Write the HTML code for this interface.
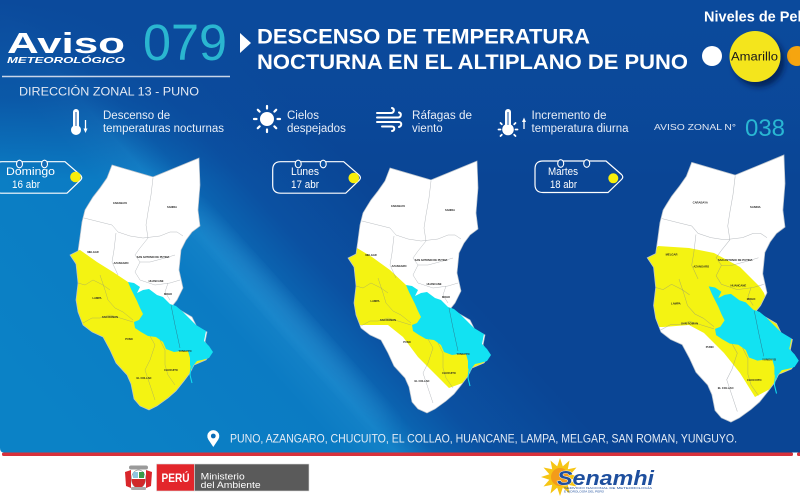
<!DOCTYPE html>
<html><head><meta charset="utf-8"><style>
html,body{margin:0;padding:0;background:#fff;width:800px;height:500px;overflow:hidden}
svg{display:block}
</style></head><body>
<svg xmlns="http://www.w3.org/2000/svg" xmlns:xlink="http://www.w3.org/1999/xlink" width="800" height="500" viewBox="0 0 800 500" font-family="'Liberation Sans', Arial, sans-serif">
<defs>
<linearGradient id="bg" gradientUnits="userSpaceOnUse" x1="4" y1="374" x2="301" y2="107">
<stop offset="0" stop-color="#0b82c6"/>
<stop offset="0.5" stop-color="#0b7bc3"/>
<stop offset="0.6" stop-color="#1482c8"/>
<stop offset="0.67" stop-color="#0b63b0"/>
<stop offset="0.77" stop-color="#0b51a2"/>
<stop offset="1" stop-color="#0a4595"/>
</linearGradient>
<linearGradient id="top" x1="0" y1="0" x2="0" y2="1">
<stop offset="0" stop-color="#0b4a9c" stop-opacity="1"/>
<stop offset="0.55" stop-color="#0b4a9c" stop-opacity="0.7"/>
<stop offset="1" stop-color="#0b4a9c" stop-opacity="0"/>
</linearGradient>
<filter id="sh" x="-50%" y="-50%" width="200%" height="200%">
<feDropShadow dx="4" dy="5" stdDeviation="3" flood-color="#021a48" flood-opacity="0.8"/>
</filter>
<filter id="blur" x="-50%" y="-50%" width="200%" height="200%"><feGaussianBlur stdDeviation="10"/></filter>
<path id="outl" d="M112,165 L153,177 L199,158 L200,185 L198,210 L200,226 L192,232 L186,240 L181,250 L179,270 L183,288 L177,300 L173,305 L180,310 L192,317 L197,327 L207,332 L205,342 L212,352 L206,360 L194,365 L190,373 L184,381 L176,391 L168,398 L157,406 L149,410 L140,406 L134,399 L131,384 L127,375 L116,363 L110,350 L103,337 L92,332 L83,325 L78,312 L76,300 L78,283 L76,264 L70,255 L78,251 L80,237 L82,222 L85,210 L88,205 L93,197 L100,188 L107,178 Z"/>
<clipPath id="c1"><use href="#outl"/></clipPath>
<clipPath id="c2"><use href="#outl" transform="translate(278,3)"/></clipPath>
<clipPath id="c3"><use href="#outl" transform="matrix(1.06,0,0,1.06,573,-12.5)"/></clipPath>
<g id="det">
<use href="#outl" fill="none" stroke="#b9c3cd" stroke-width="0.7"/>
<g fill="none" stroke="#7d858c" stroke-opacity="0.55" stroke-width="0.5">
<polyline points="153,178 151,195 148,212 146,225 148,238"/>
<polyline points="84,218 100,222 112,225 118,232 130,236 143,238 160,236 170,232 177,232 183,236"/>
<polyline points="116,233 114,250 112,262 118,275"/>
<polyline points="148,238 140,248 135,255 140,262 150,262 165,258 175,255"/>
<polyline points="140,262 135,272 140,280 155,285 170,283 180,280"/>
<polyline points="168,283 165,292 170,300"/>
<polyline points="78,283 85,285 93,280 103,285 110,290"/>
<polyline points="100,275 105,290 108,300 115,308 123,312 133,320"/>
<polyline points="83,323 92,318 100,318 110,315 120,318 133,322"/>
<polyline points="150,336 155,345 150,360 145,370 150,385 155,400"/>
<polyline points="160,340 165,350 165,365 168,375 175,385"/>
</g>
<path d="M128,282 L134,283 L140,287 L137,293 L143,290 L149,289 L157,295 L163,297 L170,304 L176,306 L182,311 L189,318 L196,325 L206,331 L204,341 L209,346 L213,352 L209,358 L202,360 L197,361 L193,366 L192,370 L190,365 L190,358 L188,351 L181,351 L174,352 L166,349 L163,342 L156,337 L148,336 L141,332 L135,328 L134,322 L139,320 L143,314 L140,308 L137,301 L134,295 L131,289 Z" fill="#12e2f2"/>
<path d="M191,366 L190,375 L192,383" fill="none" stroke="#12e2f2" stroke-width="1"/>
<path d="M171,305 L175,325 L180,348" fill="none" stroke="#2a7f96" stroke-width="0.5"/>
<g font-size="2.6" fill="#222" text-anchor="middle" font-weight="bold">
<text x="120" y="204">CARABAYA</text>
<text x="172" y="208">SANDIA</text>
<text x="93" y="253">MELGAR</text>
<text x="121" y="264">AZANGARO</text>
<text x="153" y="258">SAN ANTONIO DE PUTINA</text>
<text x="156" y="282">HUANCANE</text>
<text x="168" y="295">MOHO</text>
<text x="97" y="299">LAMPA</text>
<text x="110" y="318">SAN ROMAN</text>
<text x="129" y="340">PUNO</text>
<text x="185" y="352">YUNGUYO</text>
<text x="171" y="371">CHUCUITO</text>
<text x="144" y="379">EL COLLAO</text>
</g>
</g>
<clipPath id="band"><path d="M0,0 H800 V452.5 H4 Q0,452.5 0,448 Z"/></clipPath>
</defs>

<rect width="800" height="500" fill="#fff"/>
<g clip-path="url(#band)">
<rect x="0" y="0" width="800" height="460" fill="url(#bg)"/>
<ellipse cx="290" cy="318" rx="150" ry="9" transform="rotate(48 290 318)" fill="#3ea3e0" opacity="0.35" filter="url(#blur)"/>
<rect x="0" y="0" width="800" height="180" fill="url(#top)"/>
</g>

<!-- header -->
<text x="7" y="53" font-size="29" font-weight="bold" fill="#fff" textLength="118" lengthAdjust="spacingAndGlyphs">Aviso</text>
<text x="7" y="63" font-size="8.5" font-weight="bold" font-style="italic" fill="#fff" textLength="118" lengthAdjust="spacingAndGlyphs">METEOROLÓGICO</text>
<text x="143" y="60" font-size="51" fill="#2ab6d0" textLength="84" lengthAdjust="spacingAndGlyphs">079</text>
<polygon points="240,33 251,43 240,53" fill="#fff"/>
<text x="257" y="43.5" font-size="21" font-weight="bold" fill="#fff" textLength="333" lengthAdjust="spacingAndGlyphs">DESCENSO DE TEMPERATURA</text>
<text x="257" y="69" font-size="21" font-weight="bold" fill="#fff" textLength="431" lengthAdjust="spacingAndGlyphs">NOCTURNA EN EL ALTIPLANO DE PUNO</text>
<line x1="2" y1="76.5" x2="230" y2="76.5" stroke="#c9d5e8" stroke-width="1.5"/>
<text x="19" y="95.7" font-size="11.7" fill="#e3e9f3" textLength="180" lengthAdjust="spacingAndGlyphs">DIRECCIÓN ZONAL 13 - PUNO</text>

<!-- niveles -->
<text x="704" y="21.7" font-size="14.5" font-weight="bold" fill="#fff">Niveles de Peligro</text>
<circle cx="712" cy="56" r="10" fill="#fff"/>
<circle cx="797" cy="56" r="10" fill="#f6a50f"/>
<circle cx="755" cy="56.5" r="25.5" fill="#f4e51a" filter="url(#sh)"/>
<text x="731" y="60.5" font-size="11.5" fill="#1a1a1a" textLength="47" lengthAdjust="spacingAndGlyphs">Amarillo</text>

<!-- icons row -->
<g fill="#fff">
<rect x="73" y="109" width="6" height="20" rx="3"/>
<circle cx="76" cy="130" r="5"/>
<rect x="75.4" y="112" width="1.2" height="14" fill="#3a6fb0"/>
<polygon points="83.5,128.5 87.5,128.5 85.5,133"/>
</g>
<line x1="85.5" y1="120" x2="85.5" y2="129" stroke="#fff" stroke-width="1.3"/>
<g font-size="11.5" fill="#e8eef7">
<text x="103" y="119">Descenso de</text>
<text x="103" y="132" textLength="121" lengthAdjust="spacingAndGlyphs">temperaturas nocturnas</text>
<text x="287" y="119">Cielos</text>
<text x="287" y="132">despejados</text>
<text x="412" y="119" textLength="60" lengthAdjust="spacingAndGlyphs">Ráfagas de</text>
<text x="412" y="132">viento</text>
<text x="531.5" y="119" textLength="75" lengthAdjust="spacingAndGlyphs">Incremento de</text>
<text x="531.5" y="132" textLength="97" lengthAdjust="spacingAndGlyphs">temperatura diurna</text>
</g>
<!-- sun -->
<circle cx="267" cy="119" r="7" fill="#fff"/>
<g stroke="#fff" stroke-width="2.2" stroke-linecap="round">
<line x1="267" y1="108.5" x2="267" y2="106"/>
<line x1="267" y1="129.5" x2="267" y2="132"/>
<line x1="256.5" y1="119" x2="254" y2="119"/>
<line x1="277.5" y1="119" x2="280" y2="119"/>
<line x1="259.6" y1="111.6" x2="257.8" y2="109.8"/>
<line x1="274.4" y1="111.6" x2="276.2" y2="109.8"/>
<line x1="259.6" y1="126.4" x2="257.8" y2="128.2"/>
<line x1="274.4" y1="126.4" x2="276.2" y2="128.2"/>
</g>
<!-- wind -->
<g fill="none" stroke="#fff" stroke-width="2" stroke-linecap="round">
<path d="M377,113 H391 c3,0 4,-4 1,-5"/>
<path d="M377,117.5 H398 c3,0 4,-4 1,-5"/>
<path d="M377,122 H399 c3,0 3,4 0,5"/>
<path d="M382,126.5 H392 c3,0 3,4 0,4.5"/>
</g>
<!-- thermo + sun -->
<g fill="#fff">
<rect x="505" y="109" width="6" height="19" rx="3"/>
<circle cx="508" cy="129.5" r="5.8"/>
<rect x="507.4" y="112" width="1.2" height="13" fill="#3a6fb0"/>
<polygon points="522,122 526,122 524,117.5"/>
</g>
<line x1="524" y1="121" x2="524" y2="129" stroke="#fff" stroke-width="1.3"/>
<g stroke="#fff" stroke-width="1.8" stroke-linecap="round">
<line x1="498.5" y1="129.5" x2="500.5" y2="129.5"/>
<line x1="515.5" y1="129.5" x2="517.5" y2="129.5"/>
<line x1="500.5" y1="123" x2="501.8" y2="124.3"/>
<line x1="515.5" y1="123" x2="514.2" y2="124.3"/>
<line x1="500.5" y1="136" x2="501.8" y2="134.7"/>
<line x1="515.5" y1="136" x2="514.2" y2="134.7"/>
</g>
<text x="654" y="130" font-size="8.5" fill="#e3e9f3" textLength="82" lengthAdjust="spacingAndGlyphs">AVISO ZONAL N°</text>
<text x="745" y="136" font-size="24.5" fill="#29b7d3" textLength="40" lengthAdjust="spacingAndGlyphs">038</text>

<!-- tags -->
<g fill="none" stroke="#fff" stroke-width="1.2">
<path transform="translate(-6,161.7)" d="M8,0 H71 L86.5,13.5 Q89,16 86.5,18.5 L73,31.5 H8 Q0,31.5 0,23.5 V8 Q0,0 8,0 Z"/>
<path transform="translate(272.7,161.7)" d="M8,0 H71 L86.5,13.5 Q89,16 86.5,18.5 L73,31.5 H8 Q0,31.5 0,23.5 V8 Q0,0 8,0 Z"/>
<path transform="translate(535,161)" d="M8,0 H71 L86.5,13.5 Q89,16 86.5,18.5 L73,31.5 H8 Q0,31.5 0,23.5 V8 Q0,0 8,0 Z"/>
</g>
<g stroke="#fff" stroke-width="1.1">
<ellipse cx="19.5" cy="164" rx="3" ry="3.8" fill="#1569b5"/>
<ellipse cx="44.5" cy="164" rx="3" ry="3.8" fill="#1569b5"/>
<ellipse cx="298.2" cy="164" rx="3" ry="3.8" fill="#0b51a1"/>
<ellipse cx="323.2" cy="164" rx="3" ry="3.8" fill="#0b51a1"/>
<ellipse cx="560.7" cy="163.5" rx="3" ry="3.8" fill="#0a4797"/>
<ellipse cx="586.7" cy="163.5" rx="3" ry="3.8" fill="#0a4797"/>
</g>
<g font-size="11" fill="#fff">
<text x="6" y="175" textLength="49" lengthAdjust="spacingAndGlyphs">Domingo</text>
<text x="12" y="188" textLength="28" lengthAdjust="spacingAndGlyphs">16 abr</text>
<text x="291" y="175" textLength="28" lengthAdjust="spacingAndGlyphs">Lunes</text>
<text x="291" y="188" textLength="28" lengthAdjust="spacingAndGlyphs">17 abr</text>
<text x="548" y="175" textLength="30" lengthAdjust="spacingAndGlyphs">Martes</text>
<text x="550" y="188" textLength="27" lengthAdjust="spacingAndGlyphs">18 abr</text>
</g>
<g fill="#f7ee0a">
<circle cx="75.5" cy="177" r="5.3"/>
<circle cx="353.8" cy="178" r="5.3"/>
<circle cx="613.3" cy="178.3" r="5"/>
</g>

<!-- map 1 -->
<g clip-path="url(#c1)">
<rect x="0" y="140" width="800" height="300" fill="#fff"/>
<polygon points="60,250 70,253 80,250 97,262 113,272 128,282 140,300 170,322 200,340 220,352 230,430 40,430" fill="#f4f312"/>
</g>
<use href="#det"/>

<!-- map 2 -->
<g clip-path="url(#c2)">
<rect x="0" y="140" width="800" height="300" fill="#fff"/>
<polygon points="330,250 348,257 357,248 372,257 390,270 406,285 418,303 448,325 478,343 500,350 500,375 465,382 449,388 434,373 418,357 403,337 388,325 360,325 330,325" fill="#f4f312"/>
</g>
<use href="#det" transform="translate(278,3)"/>

<!-- map 3 -->
<g clip-path="url(#c3)">
<rect x="0" y="140" width="800" height="300" fill="#fff"/>
<polygon points="640,256 650,255 658,246 689,248 714,253 740,267 760,287 764,293 768,305 800,320 820,330 820,400 772,388 755,397 740,373 724,353 704,333 689,325 663,327 640,327" fill="#f4f312"/>
</g>
<use href="#det" transform="matrix(1.06,0,0,1.06,573,-12.5)"/>

<!-- location line -->
<path d="M213.3,447 L208.3,439.5 A6,6 0 1 1 218.3,439.5 Z" fill="#fff"/>
<circle cx="213.3" cy="436" r="2.4" fill="#0a6cb7"/>
<text x="230" y="442.3" font-size="11.5" fill="#e5ecf5" textLength="507" lengthAdjust="spacingAndGlyphs">PUNO, AZANGARO, CHUCUITO, EL COLLAO, HUANCANE, LAMPA, MELGAR, SAN ROMAN, YUNGUYO.</text>

<!-- red line -->
<rect x="2" y="452.5" width="791" height="3.5" rx="1.5" fill="#d8313b"/>
<rect x="797" y="452.5" width="5" height="3.5" rx="1.5" fill="#d8313b"/>

<!-- footer: coat of arms -->
<rect x="129" y="465.5" width="19" height="4" rx="2" fill="#9a9a9a"/>
<polygon points="125,472 131,470 131,488 126,486" fill="#d9262b"/>
<polygon points="152,472 146,470 146,488 151,486" fill="#d9262b"/>
<ellipse cx="138.5" cy="479" rx="7" ry="9" fill="#fff" stroke="#999" stroke-width="0.8"/>
<path d="M131.5,479 H145.5 A7,9 0 0 1 131.5,479 Z" fill="#d02a2a"/>
<rect x="133" y="472" width="5" height="6" fill="#8ec4e0"/>
<rect x="139" y="472" width="5" height="6" fill="#3a9b48"/>
<rect x="131" y="487" width="15" height="3" rx="1" fill="#aaa"/>
<!-- ministry -->
<rect x="156.5" y="464" width="38" height="27" fill="#e3262b" stroke="#ddd" stroke-width="0.6"/>
<rect x="194.5" y="464" width="114.5" height="27" fill="#5a5a5a" stroke="#ddd" stroke-width="0.6"/>
<text x="161.5" y="482" font-size="11.5" font-weight="bold" fill="#fff" textLength="28" lengthAdjust="spacingAndGlyphs">PERÚ</text>
<text x="200.7" y="479.5" font-size="9.5" fill="#fff" textLength="44" lengthAdjust="spacingAndGlyphs">Ministerio</text>
<text x="200.7" y="487.8" font-size="9.5" fill="#fff" textLength="60" lengthAdjust="spacingAndGlyphs">del Ambiente</text>

<!-- senamhi -->
<polygon points="579,477 570.6,479.8 576.5,486.5 567.8,484.8 569.5,493.5 562.8,487.6 560,496 557.2,487.6 550.5,493.5 552.2,484.8 543.5,486.5 549.4,479.8 541,477 549.4,474.2 543.5,467.5 552.2,469.2 550.5,460.5 557.2,466.4 560,458 562.8,466.4 569.5,460.5 567.8,469.2 576.5,467.5 570.6,474.2" fill="#f6c514"/>
<circle cx="560" cy="477" r="9" fill="#f39c1a"/>
<text x="557" y="485" font-size="20" font-weight="bold" font-style="italic" fill="#1e4f9e" stroke="#fff" stroke-width="0.8" paint-order="stroke" textLength="97" lengthAdjust="spacingAndGlyphs">Senamhi</text>
<text x="564" y="489" font-size="3" fill="#1e4f9e" textLength="88" lengthAdjust="spacingAndGlyphs">SERVICIO NACIONAL DE METEOROLOGÍA</text>
<text x="564" y="492.5" font-size="3" fill="#1e4f9e" textLength="40" lengthAdjust="spacingAndGlyphs">E HIDROLOGÍA DEL PERÚ</text>
</svg>
</body></html>
